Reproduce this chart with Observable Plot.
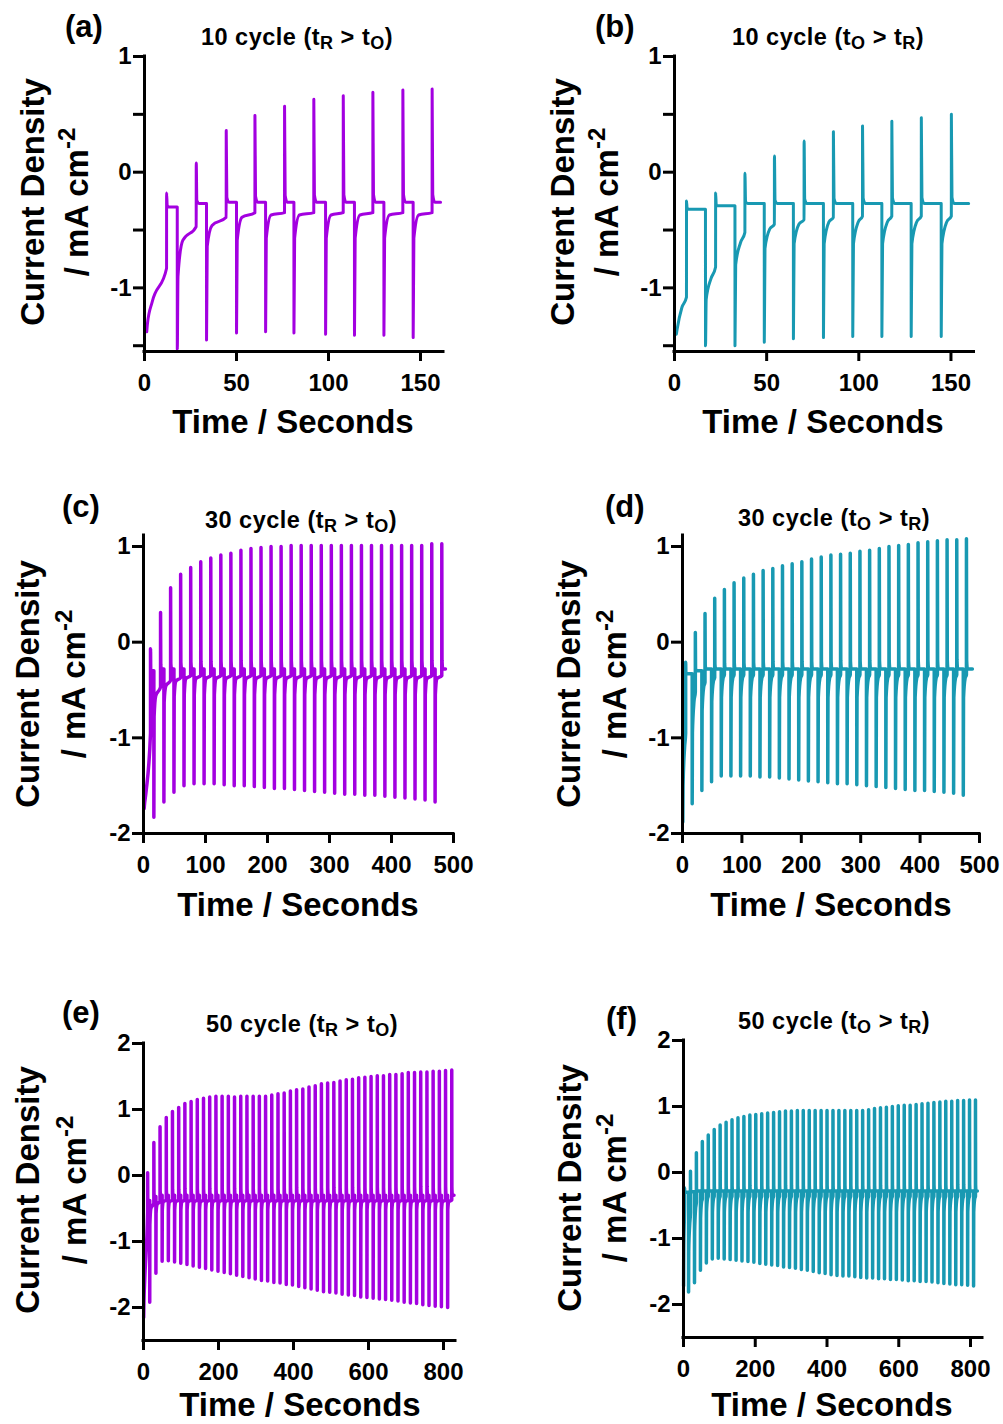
<!DOCTYPE html>
<html>
<head>
<meta charset="utf-8">
<script src="https://cdn.jsdelivr.net/npm/d3@7"></script>
<script src="https://cdn.jsdelivr.net/npm/@observablehq/plot@0.6"></script>
<style>
  html, body { margin: 0; padding: 0; background: #fff; }
  #fig { position: relative; width: 1003px; height: 1424px; overflow: hidden; background: #fff; }
  #fig svg { position: absolute; }
</style>
</head>
<body>
<div id="fig"></div>
<script>
// ---------- Pulsed current traces: current density (mA cm^-2) vs time (s) ----------
// Each cycle: a reduction pulse (negative spike that recovers towards a plateau)
// followed by an oxidation pulse (positive spike that settles on a plateau).
// Per-cycle arrays: pulse start times, spike values, recovery levels.
// Short "early" arrays: the last entry holds for the remaining cycles.

// (a) 10 cycle, tR > tO
const aRedStart = [1.2, 17.8, 33.7, 50.0, 65.8, 81.2, 98.4, 114.1, 130.1, 146.0];
const aOxStart  = [12.0, 28.1, 44.4, 60.0, 76.1, 92.0, 108.0, 124.1, 140.4, 156.3];
const aNeg      = [-1.38, -1.53, -1.45, -1.39, -1.38, -1.39, -1.40, -1.41, -1.41, -1.43];
const aPos      = [-0.18, 0.08, 0.36, 0.49, 0.57, 0.63, 0.66, 0.69, 0.71, 0.72];
const aRedKnee  = [-1.31, -0.90, -0.64, -0.59, -0.57];
const aRedMid   = [-1.12, -0.59, -0.46, -0.39, -0.37];
const aRedEnd   = [-0.83, -0.47, -0.39, -0.35];
const aOxLevel  = [-0.30, -0.27, -0.26];
const aEnd = 160.9;

// (b) 10 cycle, tO > tR
const bRedStart = [1.0, 16.8, 32.8, 48.7, 64.5, 80.8, 96.7, 112.5, 128.4, 144.7];
const bOxStart  = [6.5, 22.3, 38.2, 54.2, 70.3, 86.2, 102.0, 117.9, 133.9, 150.2];
const bNeg      = [-1.40, -1.50, -1.50, -1.47, -1.44, -1.43, -1.42, -1.42, -1.42, -1.42];
const bPos      = [-0.25, -0.18, -0.01, 0.14, 0.27, 0.35, 0.40, 0.44, 0.47, 0.50];
const bRedKnee  = [-1.36, -1.10, -0.80, -0.66, -0.62];
const bRedMid   = [-1.17, -0.92, -0.61, -0.49, -0.45, -0.43];
const bRedEnd   = [-1.08, -0.82, -0.52, -0.45, -0.41, -0.39, -0.38];
const bOxLevel  = [-0.32, -0.29, -0.27];
const bEnd = 159.6;

// (c) 30 cycle, tR > tO
const cRedStart = [1.0, 16.7, 32.9, 49.1, 65.3, 81.5, 97.7, 113.9, 130.1, 146.3, 162.5, 178.7, 194.9, 211.1, 227.3, 243.5, 259.7, 275.9, 292.1, 308.3, 324.5, 340.7, 356.9, 373.1, 389.3, 405.5, 421.7, 437.9, 454.1, 470.3];
const cOxStart  = [11.3, 27.5, 43.7, 59.9, 76.1, 92.3, 108.5, 124.7, 140.9, 157.1, 173.3, 189.5, 205.7, 221.9, 238.1, 254.3, 270.5, 286.7, 302.9, 319.1, 335.3, 351.5, 367.7, 383.9, 400.1, 416.3, 432.5, 448.7, 464.9, 481.1];
const cNeg      = [-1.74, -1.83, -1.67, -1.57, -1.50, -1.48, -1.48, -1.48, -1.49, -1.50, -1.50, -1.51, -1.52, -1.53, -1.53, -1.54, -1.55, -1.56, -1.57, -1.58, -1.59, -1.59, -1.60, -1.60, -1.61, -1.62, -1.63, -1.64, -1.65, -1.67];
const cPos      = [-0.07, 0.31, 0.57, 0.71, 0.78, 0.84, 0.88, 0.91, 0.93, 0.96, 0.98, 0.99, 1.00, 1.00, 1.01, 1.01, 1.01, 1.01, 1.01, 1.01, 1.01, 1.01, 1.01, 1.01, 1.01, 1.01, 1.01, 1.01, 1.03, 1.03];
const cRedKnee  = [-1.71, -0.78, -0.63, -0.57, -0.55];
const cRedMid   = [-1.57, -0.56, -0.46, -0.41, -0.38];
const cRedEnd   = [-0.95, -0.47, -0.40, -0.37, -0.35];
const cOxLevel  = [-0.30, -0.28];
const cEnd = 487;

// (d) 30 cycle, tO > tR
const dRedStart = [0.5, 16.3, 32.6, 48.9, 65.2, 81.5, 97.8, 114.1, 130.4, 146.7, 163.0, 179.3, 195.6, 211.9, 228.2, 244.5, 260.8, 277.1, 293.4, 309.7, 326.0, 342.3, 358.6, 374.9, 391.2, 407.5, 423.8, 440.1, 456.4, 472.7];
const dOxStart  = [5.3, 21.6, 37.9, 54.2, 70.5, 86.8, 103.1, 119.4, 135.7, 152.0, 168.3, 184.6, 200.9, 217.2, 233.5, 249.8, 266.1, 282.4, 298.7, 315.0, 331.3, 347.6, 363.9, 380.2, 396.5, 412.8, 429.1, 445.4, 461.7, 478.0];
const dNeg      = [-1.88, -1.69, -1.55, -1.46, -1.40, -1.40, -1.40, -1.40, -1.41, -1.41, -1.42, -1.43, -1.44, -1.45, -1.46, -1.47, -1.48, -1.48, -1.49, -1.50, -1.51, -1.52, -1.53, -1.54, -1.55, -1.55, -1.56, -1.57, -1.58, -1.60];
const dPos      = [-0.21, 0.10, 0.30, 0.46, 0.55, 0.62, 0.67, 0.71, 0.75, 0.77, 0.80, 0.82, 0.84, 0.87, 0.89, 0.91, 0.92, 0.93, 0.95, 0.96, 0.98, 1.00, 1.01, 1.02, 1.04, 1.05, 1.06, 1.07, 1.07, 1.08];
const dRedKnee  = [-1.50, -0.95, -0.72, -0.62, -0.58];
const dRedMid   = [-1.10, -0.62, -0.47, -0.41, -0.38];
const dRedEnd   = [-0.95, -0.52, -0.42, -0.37, -0.34];
const dOxLevel  = [-0.33, -0.30, -0.28];
const dEnd = 488;

// (e) 50 cycle, tR > tO
const eRedStart = [0.5, 16.6, 33.1, 49.7, 66.2, 82.8, 99.3, 115.9, 132.4, 149.0, 165.5, 182.1, 198.6, 215.2, 231.7, 248.3, 264.8, 281.4, 297.9, 314.5, 331.0, 347.6, 364.1, 380.7, 397.2, 413.8, 430.3, 446.9, 463.4, 480.0, 496.5, 513.1, 529.6, 546.2, 562.7, 579.3, 595.8, 612.4, 628.9, 645.5, 662.0, 678.6, 695.1, 711.7, 728.2, 744.8, 761.3, 777.9, 794.4, 811.0];
const eOxStart  = [11.0, 27.6, 44.1, 60.7, 77.2, 93.8, 110.3, 126.9, 143.4, 160.0, 176.5, 193.1, 209.6, 226.2, 242.7, 259.3, 275.8, 292.4, 308.9, 325.5, 342.0, 358.6, 375.1, 391.7, 408.2, 424.8, 441.3, 457.9, 474.4, 491.0, 507.5, 524.1, 540.6, 557.2, 573.7, 590.3, 606.8, 623.4, 639.9, 656.5, 673.0, 689.6, 706.1, 722.7, 739.2, 755.8, 772.3, 788.9, 805.4, 822.0];
const eNeg      = [-2.15, -1.92, -1.48, -1.30, -1.29, -1.31, -1.33, -1.35, -1.37, -1.39, -1.41, -1.43, -1.45, -1.47, -1.49, -1.51, -1.53, -1.55, -1.57, -1.59, -1.60, -1.62, -1.63, -1.65, -1.66, -1.68, -1.70, -1.72, -1.74, -1.76, -1.77, -1.78, -1.80, -1.81, -1.82, -1.84, -1.85, -1.86, -1.87, -1.88, -1.89, -1.90, -1.92, -1.93, -1.94, -1.96, -1.97, -1.98, -1.99, -2.00];
const ePos      = [0.04, 0.50, 0.74, 0.88, 0.97, 1.03, 1.09, 1.12, 1.15, 1.17, 1.19, 1.20, 1.20, 1.20, 1.19, 1.20, 1.20, 1.20, 1.20, 1.20, 1.22, 1.24, 1.25, 1.28, 1.30, 1.31, 1.34, 1.36, 1.39, 1.40, 1.41, 1.43, 1.45, 1.46, 1.48, 1.49, 1.50, 1.51, 1.51, 1.53, 1.53, 1.54, 1.56, 1.56, 1.57, 1.57, 1.58, 1.58, 1.59, 1.60];
const eRedKnee  = [-2.00, -0.75, -0.58, -0.52];
const eRedMid   = [-1.55, -0.50, -0.44, -0.40];
const eRedEnd   = [-0.55, -0.42, -0.39, -0.37];
const eOxLevel  = [-0.38, -0.32, -0.30];
const eEnd = 828;

// (f) 50 cycle, tO > tR
const fRedStart = [0.3, 14.1, 30.6, 47.2, 63.7, 80.3, 96.8, 113.4, 129.9, 146.5, 163.0, 179.6, 196.1, 212.7, 229.2, 245.8, 262.3, 278.9, 295.4, 312.0, 328.5, 345.1, 361.6, 378.2, 394.7, 411.3, 427.8, 444.4, 460.9, 477.5, 494.0, 510.6, 527.1, 543.7, 560.2, 576.8, 593.3, 609.9, 626.4, 643.0, 659.5, 676.1, 692.6, 709.2, 725.7, 742.3, 758.8, 775.4, 791.9, 808.5];
const fOxStart  = [2.8, 19.4, 35.9, 52.5, 69.0, 85.6, 102.1, 118.7, 135.2, 151.8, 168.3, 184.9, 201.4, 218.0, 234.5, 251.1, 267.6, 284.2, 300.7, 317.3, 333.8, 350.4, 366.9, 383.5, 400.0, 416.6, 433.1, 449.7, 466.2, 482.8, 499.3, 515.9, 532.4, 549.0, 565.5, 582.1, 598.6, 615.2, 631.7, 648.3, 664.8, 681.4, 697.9, 714.5, 731.0, 747.6, 764.1, 780.7, 797.2, 813.8];
const fNeg      = [-1.72, -1.81, -1.67, -1.48, -1.37, -1.31, -1.30, -1.31, -1.32, -1.33, -1.34, -1.35, -1.36, -1.38, -1.39, -1.40, -1.41, -1.43, -1.44, -1.45, -1.47, -1.48, -1.50, -1.52, -1.53, -1.55, -1.56, -1.57, -1.57, -1.58, -1.59, -1.60, -1.60, -1.61, -1.61, -1.62, -1.62, -1.63, -1.64, -1.64, -1.65, -1.65, -1.66, -1.67, -1.68, -1.69, -1.70, -1.70, -1.71, -1.72];
const fPos      = [-0.23, 0.02, 0.30, 0.47, 0.57, 0.65, 0.72, 0.76, 0.80, 0.83, 0.85, 0.87, 0.88, 0.89, 0.90, 0.91, 0.92, 0.93, 0.93, 0.94, 0.94, 0.94, 0.94, 0.94, 0.94, 0.94, 0.94, 0.94, 0.94, 0.94, 0.94, 0.95, 0.97, 0.98, 0.99, 1.00, 1.01, 1.02, 1.02, 1.03, 1.04, 1.05, 1.06, 1.07, 1.08, 1.08, 1.09, 1.09, 1.10, 1.10];
const fRedKnee  = [-1.20, -1.20, -0.90, -0.70, -0.60];
const fRedMid   = [-0.60, -0.80, -0.55, -0.45, -0.40];
const fRedEnd   = [-0.45, -0.60, -0.45, -0.40, -0.36];
const fOxLevel  = [-0.30, -0.29, -0.28];
const fEnd = 819;

// Panel labels, cycle counts and pulse-order subscripts
const panelLetters = ["(a)", "(b)", "(c)", "(d)", "(e)", "(f)"];
const panelCycles  = [10, 10, 30, 30, 50, 50];
const panelOrder   = [["R", "O"], ["O", "R"], ["R", "O"], ["O", "R"], ["R", "O"], ["O", "R"]];

// Axis ticks
const xTicks10 = [0, 50, 100, 150];
const yTicks10 = [1, 0.5, 0, -0.5, -1, -1.5];
const xTicks30 = [0, 100, 200, 300, 400, 500];
const yTicks30 = [1, 0, -1, -2];
const xTicks50 = [0, 200, 400, 600, 800];
const yTicks50 = [2, 1, 0, -1, -2];

// ---------- drawing ----------
const PURPLE = "#a300e0";
const TEAL = "#1899b2";
const FONT = "'Liberation Sans', Arial, Helvetica, sans-serif";

// timing of the knee, mid-recovery and settling points within a pulse (s)
const pulseShape = {spikeWidth: 0.02, kneeAt: 0.4, midAt: 3, oxDecayAt: 0.35, oxDecayFrac: 0.07, oxSettleAt: 1.5};

function buildTrace(s) {
  const at = (arr, k) => arr[Math.min(k, arr.length - 1)];
  const P = pulseShape;
  const pts = [];
  const n = s.redStart.length;
  for (let k = 0; k < n; k++) {
    const tr = s.redStart[k], to = s.oxStart[k];
    if (k > 0) pts.push({t: tr, v: at(s.oxLevel, k - 1)});
    pts.push({t: tr + P.spikeWidth, v: s.neg[k]});
    if (tr + P.kneeAt < to - 0.2) pts.push({t: tr + P.kneeAt, v: at(s.redKnee, k)});
    if (tr + P.midAt < to - 0.5) pts.push({t: tr + P.midAt, v: at(s.redMid, k)});
    pts.push({t: to, v: at(s.redEnd, k)});
    const ox = at(s.oxLevel, k), pk = s.pos[k];
    pts.push({t: to + P.spikeWidth, v: pk});
    pts.push({t: to + P.oxDecayAt, v: ox + (pk - ox) * P.oxDecayFrac});
    const next = k + 1 < n ? s.redStart[k + 1] : s.end;
    if (to + P.oxSettleAt < next) pts.push({t: to + P.oxSettleAt, v: ox});
  }
  pts.push({t: s.end, v: at(s.oxLevel, n - 1)});
  return pts;
}

const traces = [
  {redStart: aRedStart, oxStart: aOxStart, neg: aNeg, pos: aPos, redKnee: aRedKnee, redMid: aRedMid, redEnd: aRedEnd, oxLevel: aOxLevel, end: aEnd},
  {redStart: bRedStart, oxStart: bOxStart, neg: bNeg, pos: bPos, redKnee: bRedKnee, redMid: bRedMid, redEnd: bRedEnd, oxLevel: bOxLevel, end: bEnd},
  {redStart: cRedStart, oxStart: cOxStart, neg: cNeg, pos: cPos, redKnee: cRedKnee, redMid: cRedMid, redEnd: cRedEnd, oxLevel: cOxLevel, end: cEnd},
  {redStart: dRedStart, oxStart: dOxStart, neg: dNeg, pos: dPos, redKnee: dRedKnee, redMid: dRedMid, redEnd: dRedEnd, oxLevel: dOxLevel, end: dEnd},
  {redStart: eRedStart, oxStart: eOxStart, neg: eNeg, pos: ePos, redKnee: eRedKnee, redMid: eRedMid, redEnd: eRedEnd, oxLevel: eOxLevel, end: eEnd},
  {redStart: fRedStart, oxStart: fOxStart, neg: fNeg, pos: fPos, redKnee: fRedKnee, redMid: fRedMid, redEnd: fRedEnd, oxLevel: fOxLevel, end: fEnd}
];

// Page layout of each panel: plot frame in page pixels, domains, text anchors
const layout = [
  {color: PURPLE, lineWidth: 3,   frame: [144, 443, 56, 351],    xDomain: [0, 162.5], yDomain: [-1.55, 1],  xTicks: xTicks10, yTicks: yTicks10,
   letter: [65, 37], title: [297, 45], xLabel: [293, 433], yLabel: [44, 88, 202]},
  {color: TEAL,   lineWidth: 3,   frame: [673.5, 973, 56, 351],  xDomain: [0, 162.5], yDomain: [-1.55, 1],  xTicks: xTicks10, yTicks: yTicks10,
   letter: [595, 37], title: [828, 45], xLabel: [823, 433], yLabel: [574, 618, 202]},
  {color: PURPLE, lineWidth: 3.5, frame: [143, 453, 535, 833],   xDomain: [0, 500],   yDomain: [-2, 1.115], xTicks: xTicks30, yTicks: yTicks30,
   letter: [62, 517], title: [301, 528], xLabel: [298, 916], yLabel: [39, 85, 684]},
  {color: TEAL,   lineWidth: 3.5, frame: [682, 979, 535, 833],   xDomain: [0, 500],   yDomain: [-2, 1.115], xTicks: xTicks30, yTicks: yTicks30,
   letter: [605, 517], title: [834, 526], xLabel: [831, 916], yLabel: [580, 626, 684]},
  {color: PURPLE, lineWidth: 3.5, frame: [143, 455, 1043, 1340], xDomain: [0, 832],   yDomain: [-2.5, 2],   xTicks: xTicks50, yTicks: yTicks50,
   letter: [62, 1023], title: [302, 1032], xLabel: [300, 1416], yLabel: [39, 86, 1190]},
  {color: TEAL,   lineWidth: 3.5, frame: [683, 982, 1040, 1337], xDomain: [0, 833.4], yDomain: [-2.5, 2],   xTicks: xTicks50, yTicks: yTicks50,
   letter: [606, 1029], title: [834, 1029], xLabel: [832, 1416], yLabel: [581, 626, 1188]}
];

const fig = document.getElementById("fig");
const fmt = d => Number.isInteger(d) ? String(d) : "";

layout.forEach((L, i) => {
  const [x0, x1, y0, y1] = L.frame;
  const left = x0 - 90, top = y0 - 20, width = (x1 + 30) - left, height = (y1 + 60) - top;
  const data = buildTrace(traces[i]);
  const svg = Plot.plot({
    width, height,
    marginLeft: x0 - left, marginRight: left + width - x1,
    marginTop: y0 - top, marginBottom: top + height - y1,
    style: {fontFamily: FONT, fontWeight: "bold", fontSize: "24px", color: "#000", background: "transparent", overflow: "visible"},
    x: {domain: L.xDomain},
    y: {domain: L.yDomain},
    marks: [
      Plot.line(data, {x: "t", y: "v", stroke: L.color, strokeWidth: L.lineWidth, curve: "monotone-x"}),
      Plot.axisX({ticks: L.xTicks, tickSize: 10, tickPadding: 12, strokeWidth: 3, tickFormat: d => String(d), label: null}),
      Plot.axisY({ticks: L.yTicks, tickSize: 11, tickPadding: 2, strokeWidth: 3, tickFormat: fmt, label: null}),
      Plot.ruleX([L.xDomain[0]], {y1: L.yDomain[0], y2: L.yDomain[1], strokeWidth: 3, strokeLinecap: "square"}),
      Plot.ruleY([L.yDomain[0]], {x1: L.xDomain[0], x2: L.xDomain[1], strokeWidth: 3, strokeLinecap: "square"})
    ]
  });
  svg.style.left = left + "px";
  svg.style.top = top + "px";
  fig.appendChild(svg);
});

// ---------- titles and axis labels ----------
const overlay = d3.select(fig).append("svg")
  .attr("width", 1003).attr("height", 1424)
  .style("left", "0px").style("top", "0px").style("pointer-events", "none")
  .attr("font-family", FONT).attr("font-weight", "bold").attr("fill", "#000");

layout.forEach((L, i) => {
  overlay.append("text").attr("x", L.letter[0]).attr("y", L.letter[1])
    .attr("font-size", 31).text(panelLetters[i]);

  const [s1, s2] = panelOrder[i];
  const t = overlay.append("text").attr("x", L.title[0]).attr("y", L.title[1])
    .attr("text-anchor", "middle").attr("font-size", 23.5).attr("letter-spacing", 0.5);
  t.append("tspan").text(`${panelCycles[i]} cycle (t`);
  t.append("tspan").attr("font-size", 18).attr("dy", 4).text(s1);
  t.append("tspan").attr("dy", -4).text(" > t");
  t.append("tspan").attr("font-size", 18).attr("dy", 4).text(s2);
  t.append("tspan").attr("dy", -4).text(")");

  overlay.append("text").attr("x", L.xLabel[0]).attr("y", L.xLabel[1])
    .attr("text-anchor", "middle").attr("font-size", 33).text("Time / Seconds");

  const [b1, b2, cy] = L.yLabel;
  overlay.append("text").attr("transform", `translate(${b1},${cy}) rotate(-90)`)
    .attr("text-anchor", "middle").attr("font-size", 33).text("Current Density");
  const u = overlay.append("text").attr("transform", `translate(${b2},${cy}) rotate(-90)`)
    .attr("text-anchor", "middle").attr("font-size", 33);
  u.append("tspan").text("/ mA cm");
  u.append("tspan").attr("font-size", 24).attr("dy", -13).text("-2");
});
</script>
</body>
</html>
